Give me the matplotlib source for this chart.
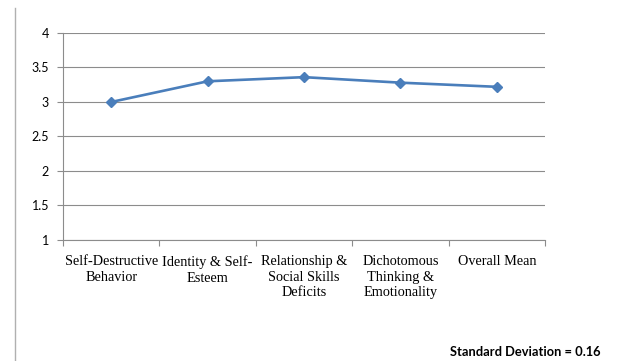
import matplotlib
matplotlib.use("Agg")
from matplotlib import pyplot as plt
from matplotlib.lines import Line2D

categories = ["Self-Destructive\nBehavior", "Identity & Self-\nEsteem",
              "Relationship &\nSocial Skills\nDeficits",
              "Dichotomous\nThinking &\nEmotionality", "Overall Mean"]
means = [3.00, 3.30, 3.36, 3.28, 3.22]
yticks = [1, 1.5, 2, 2.5, 3, 3.5, 4]
ytick_labels = ["1", "1.5", "2", "2.5", "3", "3.5", "4"]
sd_text = "Standard Deviation = 0.16"

grid_col = "#8c8c8c"

fig = plt.figure(figsize=(6.17, 3.61), dpi=100)
ax = fig.add_axes([0.1021, 0.3352, 0.7812, 0.5734])

x = list(range(len(means)))
ax.plot(x, means, color="#4a7ebb", linewidth=1.9, marker="D", markersize=5.5,
        zorder=3)

ax.set_xlim(-0.5, len(means) - 0.5)
ax.set_ylim(1, 4)
ax.set_yticks(yticks)
ax.set_yticklabels(ytick_labels, fontfamily="Lato", fontsize=9)
ax.yaxis.grid(True, color=grid_col, linewidth=0.8)
ax.set_axisbelow(True)

# category labels sit between the boundary ticks
ax.set_xticks(x)
ax.set_xticklabels(categories, fontfamily="Liberation Serif", fontsize=10.3,
                   linespacing=1.25)
ax.tick_params(axis="x", length=0, pad=11)
ax.set_xticks([i - 0.5 for i in range(len(means) + 1)], minor=True)
ax.tick_params(axis="x", which="minor", length=4, color=grid_col, width=0.8)
ax.tick_params(axis="y", length=4, color=grid_col, width=0.8, pad=6)

for side in ["top", "right"]:
    ax.spines[side].set_visible(False)
for side in ["left", "bottom"]:
    ax.spines[side].set_color(grid_col)
    ax.spines[side].set_linewidth(0.8)

# frame line at the left edge
fig.add_artist(Line2D([15 / 617, 15 / 617], [0, 1 - 8 / 361],
                      transform=fig.transFigure, color="#b0b0b0", linewidth=1))

fig.text(601 / 617, 1 - 352 / 361, sd_text, ha="right", va="center",
         fontfamily="Lato", fontweight="bold", fontsize=9.3)

fig.savefig("out.png", dpi=100)
